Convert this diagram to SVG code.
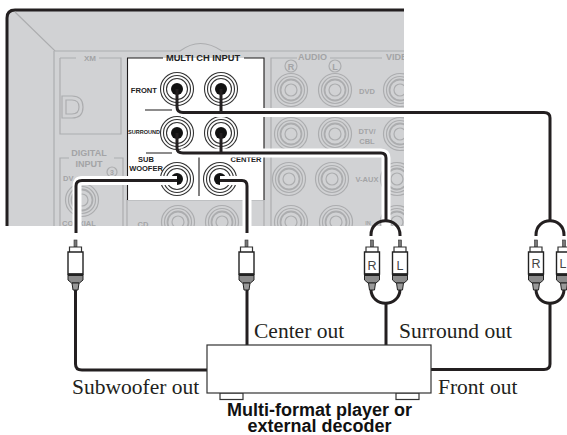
<svg xmlns="http://www.w3.org/2000/svg" width="567" height="435" viewBox="0 0 567 435">
<style>
.g{fill:none;stroke:#acadaf;stroke-width:1.2}
.gt{font-family:"Liberation Sans",Arial,sans-serif;font-weight:700;fill:#a3a4a6}
.bt{font-family:"Liberation Sans",Arial,sans-serif;font-weight:700;fill:#222}
.k{fill:none;stroke:#1d1a1b;stroke-width:1.1}
.halo{fill:none;stroke:#fff;stroke-width:9}
.cable{fill:none;stroke:#231f20;stroke-width:3;stroke-linejoin:round}
.serif{font-family:"Liberation Serif","Times New Roman",serif;font-size:21.5px;fill:#231f20}
.title{font-family:"Liberation Sans",Arial,sans-serif;font-weight:700;font-size:18px;fill:#111;text-anchor:middle}
.pl{font-family:"Liberation Sans",Arial,sans-serif;font-size:12.5px;fill:#444;text-anchor:middle}
</style>
<defs>
<clipPath id="pc"><rect x="0" y="0" width="404" height="226"/></clipPath>
<g id="gj"><circle r="16.500" class="g"/><circle r="13.500" class="g"/><circle r="10.500" fill="none" stroke="#acadaf" stroke-width="1.800"/><circle r="6" class="g"/></g>
<g id="wj"><circle r="16.500" fill="none" stroke="#333" stroke-width="1.100"/><circle r="13.500" fill="none" stroke="#333" stroke-width="1.100"/><circle r="10.500" fill="none" stroke="#333" stroke-width="1.100"/><circle r="6" fill="#111"/></g>
<g id="plug">
<rect x="-1.500" y="0" width="3" height="7" fill="#777" stroke="#333" stroke-width=".6"/>
<path d="M-6,12V7H6V12" fill="#fff" stroke="#333" stroke-width="1.200"/>
<path d="M-7.500,12H7.500V34H-7.500Z" fill="#fff" stroke="#222" stroke-width="1.400"/>
<path d="M-7.500,34H7.500V40L4,43H-4L-7.500,40Z" fill="#8b8b8b" stroke="#222" stroke-width="1"/>
<rect x="-7.500" y="34" width="15" height="2" fill="#222"/>
<path d="M-3.500,43H3.500L2.500,50H-2.500Z" fill="#999" stroke="#222" stroke-width="1"/>
</g>
</defs>

<g id="receiver">
<g clip-path="url(#pc)">
<path d="M7,226V18Q7,10 15,10H404V226Z" fill="#d1d2d4"/>
<path d="M7,226V18Q7,10 15,10H404" fill="none" stroke="#231f20" stroke-width="3"/>
<path d="M15,12L55,51H180Q200,36 222,51H404" class="g"/>
<path d="M54,51V226" class="g"/>
<path d="M60,58H76M99,58H121V134H60V58" class="g"/>
<path d="M62,96H72Q83,96 83,107Q83,118 72,118H62Z" class="g"/>
<path d="M66,100H72Q79,100 79,107Q79,114 72,114H66Z" class="g"/>
<path d="M60,226V158H69M114,158H123V226" class="g"/>
<path d="M271,226V58H297M330,58H382" class="g"/>
<path d="M127,226V200H264V226" class="g"/>
<text x="90" y="61" class="gt" font-size="8" text-anchor="middle">XM</text>
<text x="89" y="156" class="gt" font-size="9" text-anchor="middle">DIGITAL</text>
<text x="89" y="167" class="gt" font-size="9" text-anchor="middle">INPUT</text>
<text x="63" y="181" class="gt" font-size="7.500">DV</text>
<text x="62" y="226" class="gt" font-size="7.500">COAXIAL</text>
<circle cx="112" cy="172" r="5" class="g"/><text x="112" y="175" class="gt" font-size="7" text-anchor="middle">3</text>
<text x="298" y="60" class="gt" font-size="9">AUDIO</text>
<text x="386" y="60" class="gt" font-size="9">VIDEO</text>
<circle cx="291" cy="66" r="6" class="g"/><text x="291" y="69.500" class="gt" font-size="9" text-anchor="middle">R</text>
<circle cx="335" cy="66" r="6" class="g"/><text x="335" y="69.500" class="gt" font-size="9" text-anchor="middle">L</text>
<text x="367" y="94" class="gt" font-size="7.500" text-anchor="middle">DVD</text>
<text x="367" y="134" class="gt" font-size="7.500" text-anchor="middle">DTV/</text>
<text x="367" y="144" class="gt" font-size="7.500" text-anchor="middle">CBL</text>
<text x="367" y="182" class="gt" font-size="7.500" text-anchor="middle">V-AUX</text>
<text x="368" y="225" class="gt" font-size="5.500" text-anchor="middle">IN</text>
<text x="143" y="227" class="gt" font-size="7.500" text-anchor="middle">CD</text>
<use href="#gj" x="82" y="200"/>
<use href="#gj" x="178" y="222"/><use href="#gj" x="222" y="222"/>
<use href="#gj" x="291" y="90"/><use href="#gj" x="335" y="90"/><use href="#gj" x="400" y="90"/>
<use href="#gj" x="291" y="134"/><use href="#gj" x="335" y="134"/><use href="#gj" x="400" y="134"/>
<use href="#gj" x="289" y="179"/><use href="#gj" x="332" y="179"/><use href="#gj" x="397" y="179"/>
<use href="#gj" x="291" y="222"/><use href="#gj" x="336" y="222"/><use href="#gj" x="397" y="222"/>
</g>
</g>

<g id="multi-ch-input">
<rect x="127" y="58" width="137" height="142" fill="#fff"/>
<path d="M127.500,200V58H163M244,58H264V200" class="k"/>
<path d="M145,110H172M146,153H172M199,157V196" class="k"/>
<text x="203" y="61" class="bt" font-size="9.300" text-anchor="middle">MULTI CH INPUT</text>
<text x="157" y="93" class="bt" font-size="7.600" text-anchor="end">FRONT</text>
<text x="160" y="134" class="bt" font-size="6" text-anchor="end" textLength="32" lengthAdjust="spacingAndGlyphs">SURROUND</text>
<text x="146" y="162" class="bt" font-size="7.500" text-anchor="middle">SUB</text>
<text x="146" y="171" class="bt" font-size="7.500" text-anchor="middle">WOOFER</text>
<text x="246" y="162" class="bt" font-size="7.500" text-anchor="middle">CENTER</text>
<use href="#wj" x="177" y="89"/><use href="#wj" x="221" y="89"/>
<use href="#wj" x="177" y="133"/><use href="#wj" x="221" y="133"/>
<use href="#wj" x="177" y="179"/><use href="#wj" x="220" y="179"/>
</g>

<g id="connectors">
<g clip-path="url(#pc)">
<path d="M181,112.500H404" class="halo"/>
<path d="M181,153H381Q386,153 386,158V226" class="halo"/>
<path d="M177,180.500H82Q77,180.500 77,186V226" class="halo"/>
<path d="M220,180.500H242Q247,180.500 247,186V226" class="halo"/>
</g>
<path d="M177,89V107Q177,112.500 183,112.500H544Q550,112.500 550,118V222" class="cable"/>
<path d="M221,89V112.500" class="cable"/>
<path d="M177,133V148Q177,153 183,153H381Q386,153 386,158V222" class="cable"/>
<path d="M221,133V153" class="cable"/>
<path d="M177,180.500H82Q76,180.500 76,186V233" class="cable"/>
<path d="M220,180.500H242Q247,180.500 247,186V233" class="cable"/>
<path d="M371,236V235C371,216 400,216 400,235V236" class="cable"/>
<path d="M536,236V235C536,216 564,216 564,235V236" class="cable"/>
<path d="M371,289C371,308 400,308 400,289" class="cable"/>
<path d="M536,289C536,308 564,308 564,289" class="cable"/>
<path d="M386,303V345" class="cable"/>
<path d="M550,303V364Q550,369.500 544,369.500H431" class="cable"/>
<path d="M75.500,290V364Q75.500,370 82,370H207" class="cable"/>
<path d="M247,290V345" class="cable"/>
</g>

<g id="plugs">
<use href="#plug" x="75.500" y="240"/>
<use href="#plug" x="246.500" y="240"/>
<use href="#plug" x="372" y="240"/><text x="372" y="270" class="pl">R</text>
<use href="#plug" x="400" y="240"/><text x="400" y="270" class="pl">L</text>
<use href="#plug" x="536" y="240"/><text x="536" y="268" class="pl">R</text>
<use href="#plug" x="564" y="240"/><text x="563" y="268" class="pl">L</text>
</g>

<g id="decoder">
<rect x="220" y="393" width="23" height="6.500" fill="#fff" stroke="#333" stroke-width="1.200"/>
<rect x="396" y="393" width="23" height="6.500" fill="#fff" stroke="#333" stroke-width="1.200"/>
<rect x="207" y="345" width="224" height="48" fill="#fff" stroke="#333" stroke-width="1.200"/>
<text x="319.500" y="416" class="title">Multi-format player or</text>
<text x="319.500" y="431.500" class="title">external decoder</text>
</g>

<g id="labels">
<text x="72" y="394" class="serif">Subwoofer out</text>
<text x="254" y="338" class="serif">Center out</text>
<text x="399" y="338" class="serif">Surround out</text>
<text x="438" y="394" class="serif">Front out</text>
</g>
</svg>
